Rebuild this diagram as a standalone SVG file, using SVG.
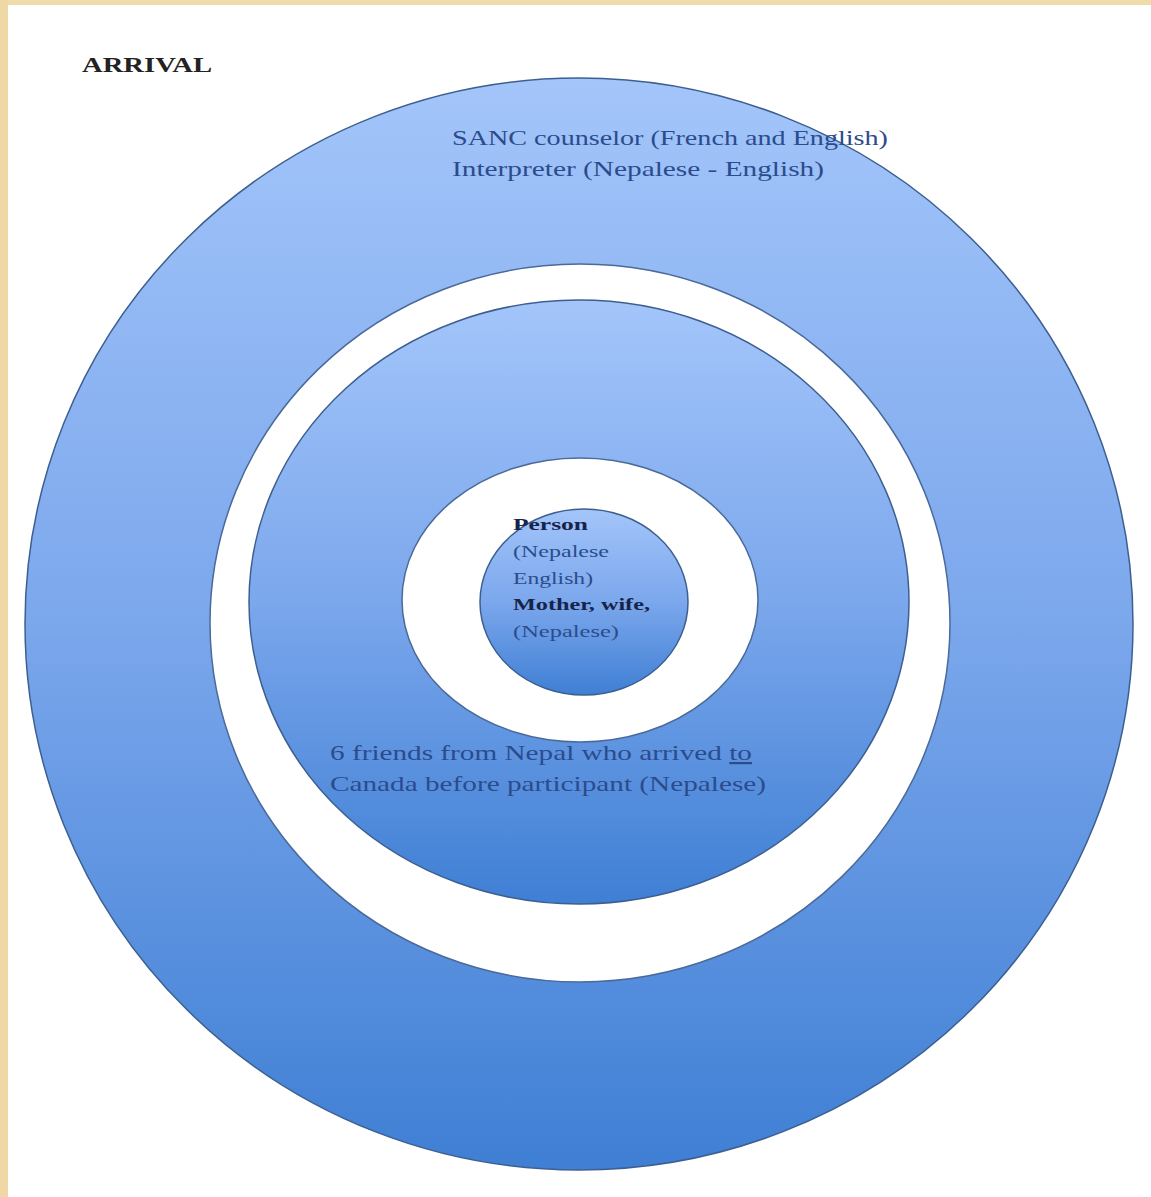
<svg xmlns="http://www.w3.org/2000/svg" width="1151" height="1197" viewBox="0 0 1151 1197">
  <defs>
    <linearGradient id="blueGrad" x1="0" y1="0" x2="0" y2="1">
      <stop offset="0" stop-color="#a3c5fa"/>
      <stop offset="0.5" stop-color="#7ba7ec"/>
      <stop offset="1" stop-color="#3f7fd4"/>
    </linearGradient>
    <style>
      .ring { fill: url(#blueGrad); stroke: #3d5f8f; stroke-width: 1.5; }
      .gap { fill: #ffffff; stroke: #4a6a99; stroke-width: 1.5; }
      .lbl { font-family: "Liberation Serif", "DejaVu Serif", serif; fill: #2b4c8c; }
      .bold { font-weight: bold; fill: #16244a; }
    </style>
  </defs>
  <rect x="0" y="0" width="1151" height="1197" fill="#ffffff"/>
  <rect x="0" y="0" width="1151" height="5" fill="#f0dcaa"/>
  <rect x="0" y="0" width="8" height="1197" fill="#eed8a6"/>

  <text x="82" y="72" font-family="Liberation Serif, DejaVu Serif, serif" font-size="22" font-weight="bold" fill="#222222" textLength="130" lengthAdjust="spacingAndGlyphs">ARRIVAL</text>

  <g id="outer">
    <ellipse class="ring" cx="579" cy="624" rx="554" ry="546"/>
  </g>
  <g id="gap-outer">
    <ellipse class="gap" cx="580" cy="623" rx="370" ry="359"/>
  </g>
  <g id="middle">
    <ellipse class="ring" cx="579" cy="602" rx="330" ry="302"/>
  </g>
  <g id="gap-inner">
    <ellipse class="gap" cx="580" cy="600" rx="178" ry="142"/>
  </g>
  <g id="inner">
    <ellipse class="ring" cx="584" cy="602" rx="104" ry="93"/>
  </g>

  <g id="labels">
    <text class="lbl" x="452" y="145" font-size="22" textLength="436" lengthAdjust="spacingAndGlyphs">SANC counselor (French and English)</text>
    <text class="lbl" x="452" y="176" font-size="22" textLength="372" lengthAdjust="spacingAndGlyphs">Interpreter (Nepalese - English)</text>

    <text class="lbl bold" x="513" y="530" font-size="16" textLength="75" lengthAdjust="spacingAndGlyphs">Person</text>
    <text class="lbl" x="513" y="557" font-size="16" textLength="96" lengthAdjust="spacingAndGlyphs">(Nepalese</text>
    <text class="lbl" x="513" y="584" font-size="16" textLength="80" lengthAdjust="spacingAndGlyphs">English)</text>
    <text class="lbl bold" x="513" y="610" font-size="16" textLength="137" lengthAdjust="spacingAndGlyphs">Mother, wife,</text>
    <text class="lbl" x="513" y="637" font-size="16" textLength="106" lengthAdjust="spacingAndGlyphs">(Nepalese)</text>

    <text class="lbl" x="330" y="760" font-size="22" textLength="422" lengthAdjust="spacingAndGlyphs">6 friends from Nepal who arrived <tspan text-decoration="underline">to</tspan></text>
    <text class="lbl" x="330" y="791" font-size="22" textLength="436" lengthAdjust="spacingAndGlyphs">Canada before participant (Nepalese)</text>
  </g>
</svg>
